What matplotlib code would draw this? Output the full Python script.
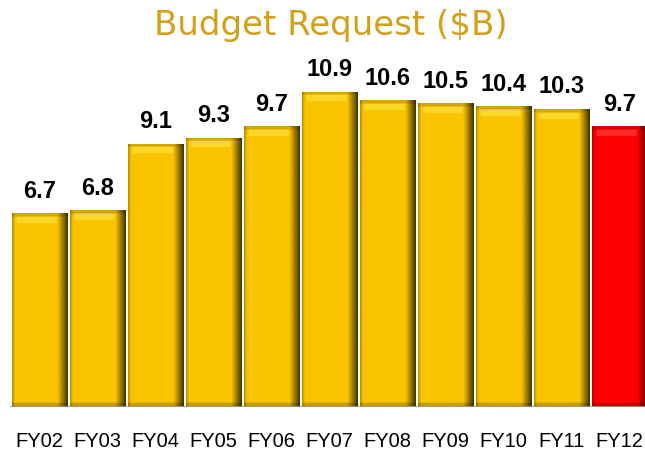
import numpy as np
import matplotlib
matplotlib.use("Agg")
import matplotlib.pyplot as plt
from matplotlib.colors import to_rgb

years = ["FY02", "FY03", "FY04", "FY05", "FY06", "FY07",
         "FY08", "FY09", "FY10", "FY11", "FY12"]
budget = [6.7, 6.8, 9.1, 9.3, 9.7, 10.9, 10.6, 10.5, 10.4, 10.3, 9.7]
bar_colors = ["#FAC400"] * 10 + ["#FF0000"]

TITLE_COLOR = "#D4A01A"
WIDTH = 0.95


def shade_image(color, height):
    # bevel look: dark right edge, slightly dark left edge, light top rim
    rows = max(int(height * 40), 20)
    cols = 60
    u = np.linspace(0, 1, cols)
    f = np.ones(cols)
    f = np.where(u < 0.05, 0.75 + 5 * u, f)
    f = np.where(u > 0.82, 1 - (u - 0.82) / 0.18 * 0.72, f)
    v = np.linspace(1, 0, rows) * height          # data y of each row, top first
    top = height - v
    rim = (top > 0.12) & (top < 0.35)
    base = np.array(to_rgb(color))
    img = base[None, None, :] * f[None, :, None] * np.ones(rows)[:, None, None]
    if color == "#FF0000":
        light = np.array([1.0, 0.35, 0.35])
    else:
        light = np.array([1.0, 0.93, 0.35])
    mid = (u > 0.08) & (u < 0.8)
    img[np.ix_(rim, mid)] = 0.55 * img[np.ix_(rim, mid)] + 0.45 * light
    img[top <= 0.12, :, :] *= 0.85
    img[v < 0.15, :, :] *= 0.8
    return np.clip(img, 0, 1)


fig = plt.figure(figsize=(6.45, 4.52), dpi=100)
ax = fig.add_axes([10 / 645, 44 / 452, 635 / 645, 408 / 452])
x = np.arange(len(years))
bars = ax.bar(x, budget, width=WIDTH, color=bar_colors, zorder=2)

for b, val, c in zip(bars, budget, bar_colors):
    x0 = b.get_x()
    im = ax.imshow(shade_image(c, val), extent=[x0, x0 + WIDTH, 0, val],
                   aspect="auto", zorder=3, interpolation="bilinear")
    im.set_clip_path(b)
    ax.text(b.get_x() + WIDTH / 2, val + 0.4, f"{val}", ha="center", va="bottom",
            fontsize=17, fontweight="bold", family="Liberation Sans", color="black")

ax.axhline(0, color="#999999", lw=2, zorder=4)
ax.set_xlim((10 - 39.5) / 58, (645 - 39.5) / 58)
ax.set_ylim(0, 408 / 28.93)
for s in ax.spines.values():
    s.set_visible(False)
ax.set_yticks([])
ax.set_xticks(x, years, fontsize=14.5, family="Liberation Sans")
ax.tick_params(axis="x", length=0, pad=17)

fig.text(331 / 645, 1 - 26 / 452, "Budget Request ($B)", ha="center", va="center",
         fontsize=24.5, color=TITLE_COLOR, family="DejaVu Sans")

fig.savefig("out.png", dpi=100)
